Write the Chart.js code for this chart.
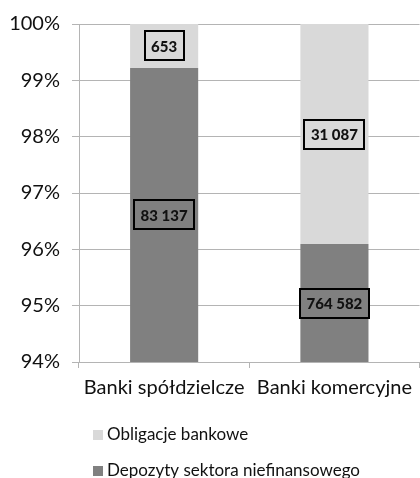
<!DOCTYPE html>
<html>
<head>
<meta charset="utf-8">
<script src="https://cdn.jsdelivr.net/npm/chart.js@4.4.0/dist/chart.umd.min.js"></script>
<style>
html,body{margin:0;padding:0;background:#fff;}
#wrap{width:420px;height:478px;position:relative;}
</style>
</head>
<body>
<div id="wrap"><canvas id="c" width="420" height="478"></canvas></div>
<script>
const categories = ["Banki spółdzielcze", "Banki komercyjne"];
const seriesNames = ["Depozyty sektora niefinansowego", "Obligacje bankowe"];
const depozyty = [83137, 764582];
const obligacje = [653, 31087];
const yTicks = [94, 95, 96, 97, 98, 99, 100];

const DARK = "#808080";
const LIGHT = "#d9d9d9";
const GRID = "#b4b4b4";
const FONT = "Lato, 'Open Sans', sans-serif";

const totals = categories.map((_, i) => depozyty[i] + obligacje[i]);
const pct = arr => arr.map((v, i) => v / totals[i] * 100);
const fmt = v => String(v).replace(/\B(?=(\d{3})+(?!\d))/g, " ");

const rawValues = [depozyty, obligacje];

const labelPlugin = {
  id: "boxLabels",
  afterDatasetsDraw(chart) {
    const ctx = chart.ctx;
    const area = chart.chartArea;
    ctx.save();
    ctx.font = "900 15px " + FONT;
    ctx.textAlign = "center";
    ctx.textBaseline = "middle";
    chart.data.datasets.forEach((ds, di) => {
      const meta = chart.getDatasetMeta(di);
      meta.data.forEach((el, i) => {
        const p = el.getProps(["x", "y", "base"], true);
        const clamp = v => Math.max(area.top, Math.min(area.bottom, v));
        const y1 = clamp(p.y), y2 = clamp(p.base);
        const cy = (y1 + y2) / 2;
        const txt = fmt(rawValues[di][i]);
        const w = ctx.measureText(txt).width + 13;
        const h = 29;
        ctx.lineWidth = 2;
        ctx.strokeStyle = "#000";
        ctx.strokeRect(Math.round(p.x - w / 2), Math.round(cy - h / 2), Math.round(w), h);
        ctx.fillStyle = "#111";
        ctx.fillText(txt, p.x, cy + 1);
      });
    });
    ctx.restore();
  }
};

const legendPlugin = {
  id: "vLegend",
  afterDraw(chart) {
    const ctx = chart.ctx;
    ctx.save();
    ctx.font = "17px " + FONT;
    ctx.textBaseline = "middle";
    ctx.textAlign = "left";
    const items = [
      { text: seriesNames[1], color: LIGHT, y: 435 },
      { text: seriesNames[0], color: DARK, y: 471 }
    ];
    items.forEach(it => {
      ctx.fillStyle = it.color;
      ctx.fillRect(93, it.y - 5, 10, 10);
      ctx.fillStyle = "#111";
      ctx.fillText(it.text, 107, it.y);
    });
    ctx.restore();
  }
};

new Chart(document.getElementById("c"), {
  type: "bar",
  data: {
    labels: categories,
    datasets: [
      { label: seriesNames[0], data: pct(depozyty), backgroundColor: DARK, barPercentage: 0.8, categoryPercentage: 0.5 },
      { label: seriesNames[1], data: pct(obligacje), backgroundColor: LIGHT, barPercentage: 0.8, categoryPercentage: 0.5 }
    ]
  },
  options: {
    responsive: false,
    animation: false,
    layout: { padding: { top: 24, right: 0, bottom: 76, left: 0 } },
    plugins: { legend: { display: false }, tooltip: { enabled: false } },
    scales: {
      x: {
        stacked: true,
        grid: { display: true, drawOnChartArea: false, tickLength: 6, color: GRID },
        border: { color: GRID },
        ticks: { color: "#111", font: { family: FONT, size: 20 }, padding: 8, maxRotation: 0, autoSkip: false },
        afterFit(s) { s.height = 40; }
      },
      y: {
        stacked: true,
        min: 94, max: 100,
        afterBuildTicks(s) { s.ticks = yTicks.map(v => ({ value: v })); },
        grid: { color: GRID, tickLength: 7 },
        border: { color: GRID },
        ticks: { color: "#111", font: { family: FONT, size: 20 }, padding: 12, callback: v => v + "%" },
        afterFit(s) { s.width = 79; }
      }
    }
  },
  plugins: [labelPlugin, legendPlugin]
});
</script>
</body>
</html>
